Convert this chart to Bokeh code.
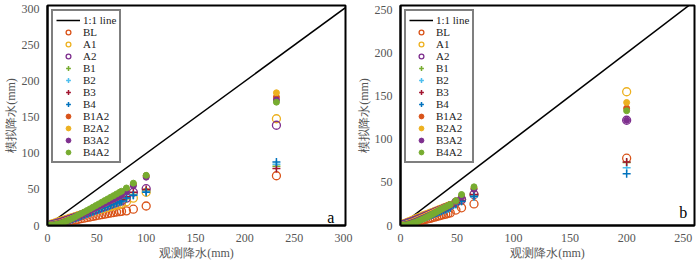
from bokeh.plotting import figure
from bokeh.layouts import row
from bokeh.models import Range1d, Legend, LegendItem, Label, FixedTicker
from bokeh.embed import file_html
from bokeh.resources import INLINE

# ---------------- data ----------------
series_names = ["BL", "A1", "A2", "B1", "B2", "B3", "B4", "B1A2", "B2A2", "B3A2", "B4A2"]
series_colors = ["#D95319", "#EDB120", "#7E2F8E", "#77AC30", "#4DBEEE", "#A2142F",
                 "#0072BD", "#D95319", "#EDB120", "#7E2F8E", "#77AC30"]
series_markers = ["open", "open", "open", "plus", "plus", "plus", "plus",
                  "filled", "filled", "filled", "filled"]

# panel a
obs_a = [0, 1, 2, 4, 6, 8, 10, 13, 16, 19, 22, 25, 28, 31, 34, 37, 40, 43, 46, 49,
         52, 55, 58, 61, 64, 67, 70, 73, 75, 80, 87, 100, 232]
sim_a = {
    "BL":   [0, 0.2, 0.5, 1, 1.5, 2, 2.6, 3.4, 4.3, 5.1, 6, 6.8, 7.7, 8.5, 9.4, 10.2, 11, 11.8, 12.7, 13.5,
             14.3, 15, 15.8, 16.6, 17.3, 18, 18.6, 19.2, 19.6, 20.3, 22.6, 27, 69],
    "A1":   [0, 0.4, 0.9, 1.8, 2.7, 3.6, 4.5, 5.9, 7.2, 8.5, 9.8, 11, 12.3, 13.5, 14.8, 16, 17.2, 18.4, 19.6, 20.8,
             22, 23.1, 24.2, 25.3, 26.4, 27.4, 28.5, 29.6, 30.2, 33, 38, 46, 148],
    "A2":   [0, 0.2, 0.5, 1, 1.6, 2.3, 3.1, 4.3, 5.6, 7, 8.4, 9.8, 11.2, 12.7, 14.2, 15.7, 17.2, 18.7, 20.2, 21.7,
             23.2, 24.7, 26.2, 27.6, 29, 30.4, 31.8, 33.2, 34, 38, 46, 51, 139],
    "B1":   [0, 0.1, 0.3, 0.7, 1.2, 1.8, 2.5, 3.6, 4.8, 6.1, 7.4, 8.8, 10.2, 11.6, 13.1, 14.6, 16.1, 17.6, 19.1, 20.6,
             22.1, 23.6, 25.1, 26.6, 28.1, 29.6, 31.1, 32.6, 33.6, 37, 43, 48, 82],
    "B2":   [0, 0.1, 0.3, 0.6, 1.1, 1.7, 2.4, 3.5, 4.7, 6, 7.3, 8.7, 10.1, 11.5, 13, 14.5, 16, 17.5, 19, 20.5,
             22, 23.5, 25, 26.5, 28, 29.5, 31, 32.5, 33.5, 38, 42, 47, 85],
    "B3":   [0, 0.1, 0.3, 0.7, 1.2, 1.9, 2.6, 3.8, 5.1, 6.5, 7.9, 9.4, 10.9, 12.4, 14, 15.6, 17.2, 18.8, 20.4, 22,
             23.6, 25.2, 26.8, 28.4, 30, 31.6, 33.2, 34.8, 35.8, 40, 46, 50, 79],
    "B4":   [0, 0.1, 0.2, 0.6, 1.1, 1.7, 2.4, 3.5, 4.7, 6, 7.4, 8.8, 10.3, 11.8, 13.3, 14.8, 16.3, 17.8, 19.3, 20.8,
             22.3, 23.8, 25.3, 26.8, 28.3, 29.8, 31.3, 32.8, 33.8, 38, 42, 46, 88],
    "B1A2": [0, 0.1, 0.2, 0.5, 0.9, 1.4, 2, 3.1, 4.4, 5.9, 7.6, 9.4, 11.3, 13.3, 15.3, 17.4, 19.5, 21.6, 23.8, 26,
             28.2, 30.4, 32.6, 34.8, 37, 39.2, 41.4, 43.6, 45, 50, 57, 69, 178],
    "B2A2": [0, 0.2, 0.5, 1, 1.6, 2.3, 3, 4.2, 5.5, 6.9, 8.4, 10, 11.7, 13.4, 15.2, 17, 18.8, 20.7, 22.6, 24.5,
             26.5, 28.5, 30.5, 32.5, 34.5, 36.5, 38.5, 40.5, 42, 48, 57, 68, 184],
    "B3A2": [0, 0.1, 0.3, 0.7, 1.1, 1.6, 2.3, 3.4, 4.7, 6.1, 7.7, 9.4, 11.1, 12.9, 14.8, 16.7, 18.6, 20.5, 22.5, 24.5,
             26.5, 28.5, 30.5, 32.5, 34.5, 36.5, 38.5, 40.5, 42, 47, 55, 67, 174],
    "B4A2": [0, 0, 0.1, 0.3, 0.6, 1.1, 1.7, 2.8, 4.2, 5.9, 7.8, 9.8, 11.9, 14.1, 16.3, 18.5, 20.7, 23, 25.3, 27.6,
             29.9, 32.2, 34.5, 36.8, 39.1, 41.4, 43.7, 46, 47.5, 52, 58.7, 69.6, 171],
}

# panel b
obs_b = [0, 1, 2, 3, 4, 6, 8, 10, 12, 14, 16, 18, 20, 22, 24, 26, 28, 30, 32, 34, 36, 38, 40, 42, 44,
         49, 54, 65, 200]
sim_b = {
    "BL":   [0, 0.3, 0.6, 0.9, 1.2, 1.8, 2.5, 3.1, 3.7, 4.3, 5, 5.7, 6.3, 7, 7.6, 8.3, 9, 9.7, 10.4, 11.1,
             11.8, 12.5, 13.2, 13.9, 14.6, 17.9, 20.5, 25, 78],
    "A1":   [0, 0.6, 1.2, 1.8, 2.4, 3.5, 4.6, 5.7, 6.8, 7.9, 9, 10, 11, 12, 13, 14, 15, 16, 17, 18,
             19, 20, 21, 22, 23, 27, 30, 36, 155],
    "A2":   [0, 0.4, 0.8, 1.2, 1.7, 2.6, 3.6, 4.6, 5.6, 6.6, 7.6, 8.6, 9.6, 10.7, 11.8, 12.9, 14, 15.1, 16.2, 17.3,
             18.4, 19.5, 20.6, 21.7, 22.8, 27, 30, 36, 122],
    "B1":   [0, 0.3, 0.6, 1, 1.4, 2.2, 3.1, 4, 5, 6, 7, 8, 9, 10, 11, 12, 13, 14, 15, 16,
             17, 18, 19, 20, 21, 25, 29, 34, 73],
    "B2":   [0, 0.3, 0.6, 1, 1.4, 2.2, 3, 3.9, 4.8, 5.7, 6.7, 7.7, 8.7, 9.7, 10.7, 11.7, 12.7, 13.7, 14.7, 15.7,
             16.7, 17.7, 18.7, 19.7, 20.7, 24.5, 28, 33, 67],
    "B3":   [0, 0.3, 0.6, 1, 1.5, 2.3, 3.2, 4.1, 5.1, 6.1, 7.1, 8.1, 9.1, 10.2, 11.3, 12.4, 13.5, 14.6, 15.7, 16.8,
             17.9, 19, 20.1, 21.2, 22.3, 26, 29, 36, 73.6],
    "B4":   [0, 0.3, 0.6, 0.9, 1.3, 2.1, 2.9, 3.8, 4.7, 5.6, 6.6, 7.6, 8.6, 9.6, 10.6, 11.6, 12.6, 13.6, 14.6, 15.6,
             16.6, 17.6, 18.6, 19.6, 20.6, 24.5, 28, 34, 60],
    "B1A2": [0, 0.1, 0.3, 0.6, 0.9, 1.6, 2.5, 3.4, 4.4, 5.5, 6.6, 7.7, 8.9, 10.1, 11.3, 12.5, 13.8, 15.1, 16.4, 17.7,
             19, 20.3, 21.6, 22.9, 24.2, 28, 34, 43, 136],
    "B2A2": [0, 0.3, 0.6, 1, 1.4, 2.3, 3.2, 4.2, 5.2, 6.3, 7.4, 8.5, 9.6, 10.8, 12, 13.2, 14.4, 15.6, 16.8, 18,
             19.2, 20.4, 21.6, 22.8, 24, 28, 34, 43, 142.6],
    "B3A2": [0, 0.1, 0.3, 0.5, 0.8, 1.5, 2.3, 3.2, 4.2, 5.2, 6.3, 7.4, 8.5, 9.7, 10.9, 12.1, 13.3, 14.5, 15.8, 17.1,
             18.4, 19.7, 21, 22.3, 23.6, 28, 33, 42, 122],
    "B4A2": [0, 0, 0.1, 0.2, 0.4, 0.9, 1.5, 2.3, 3.2, 4.2, 5.3, 6.4, 7.6, 8.9, 10.2, 11.6, 13, 14.4, 15.8, 17.2,
             18.6, 20, 21.4, 22.8, 24.2, 28.7, 35.9, 44.8, 133],
}

ticks_a = [0, 50, 100, 150, 200, 250, 300]
ticks_b = [0, 50, 100, 150, 200, 250]
xlabel = "观测降水(mm)"
ylabel = "模拟降水(mm)"

SERIF = "Liberation Serif"


def make_panel(obs, sim, ticks, xmax, ymax, letter, letter_pos, fw, bl, br):
    p = figure(frame_width=fw, frame_height=220, output_backend="svg", toolbar_location=None,
               x_range=Range1d(0, xmax), y_range=Range1d(0, ymax),
               min_border_left=bl, min_border_right=br, min_border_top=5, min_border_bottom=32)
    p.grid.visible = False
    p.outline_line_color = "black"
    p.outline_line_width = 2
    p.background_fill_color = "white"
    for ax in (p.xaxis[0], p.yaxis[0]):
        ax.ticker = FixedTicker(ticks=ticks)
        ax.axis_line_width = 2
        ax.axis_line_color = "black"
        ax.major_tick_line_color = None
        ax.minor_tick_line_color = None
        ax.major_label_text_font = SERIF
        ax.major_label_text_font_size = "12px"
        ax.major_label_text_color = "#555555"
        ax.major_label_standoff = 2
        ax.axis_label_text_font = SERIF
        ax.axis_label_text_font_size = "12px"
        ax.axis_label_text_font_style = "normal"
        ax.axis_label_text_color = "#555555"
        ax.axis_label_standoff = 1
    p.xaxis.axis_label = xlabel
    p.yaxis.axis_label = ylabel

    line = p.line([0, xmax + 20], [0, xmax + 20], line_color="black", line_width=1.5)
    items = [LegendItem(label="1:1 line", renderers=[line])]
    for name, col, mk in zip(series_names, series_colors, series_markers):
        ys = sim[name]
        if mk == "open":
            r = p.scatter(obs, ys, marker="circle", size=8, fill_color=None,
                          line_color=col, line_width=1.3)
        elif mk == "plus":
            r = p.scatter(obs, ys, marker="cross", size=8, line_color=col, line_width=1.5)
        else:
            r = p.scatter(obs, ys, marker="circle", size=6, fill_color=col,
                          line_color=col, line_width=1)
        items.append(LegendItem(label=name, renderers=[r]))

    leg = Legend(items=items, location="top_left")
    leg.label_text_font = SERIF
    leg.label_text_font_size = "11px"
    leg.label_text_color = "#222222"
    leg.label_height = 9
    leg.glyph_height = 12
    leg.glyph_width = 24
    leg.spacing = 0
    leg.padding = 3
    leg.margin = 4
    leg.label_standoff = 3
    leg.border_line_color = "black"
    leg.border_line_width = 2
    leg.background_fill_alpha = 1
    p.add_layout(leg)

    p.add_layout(Label(x=letter_pos[0], y=letter_pos[1], text=letter, text_align="center",
                       text_baseline="middle", text_font=SERIF, text_font_size="16px",
                       text_color="black"))
    return p


p1 = make_panel(obs_a, sim_a, ticks_a, 302, 305, "a", (287, 11), 298, 34, 8)
p2 = make_panel(obs_b, sim_b, ticks_b, 260, 255, "b", (250, 15), 294, 46, 4)

layout = row(p1, p2)
open("out.html", "w").write(file_html(layout, INLINE))
